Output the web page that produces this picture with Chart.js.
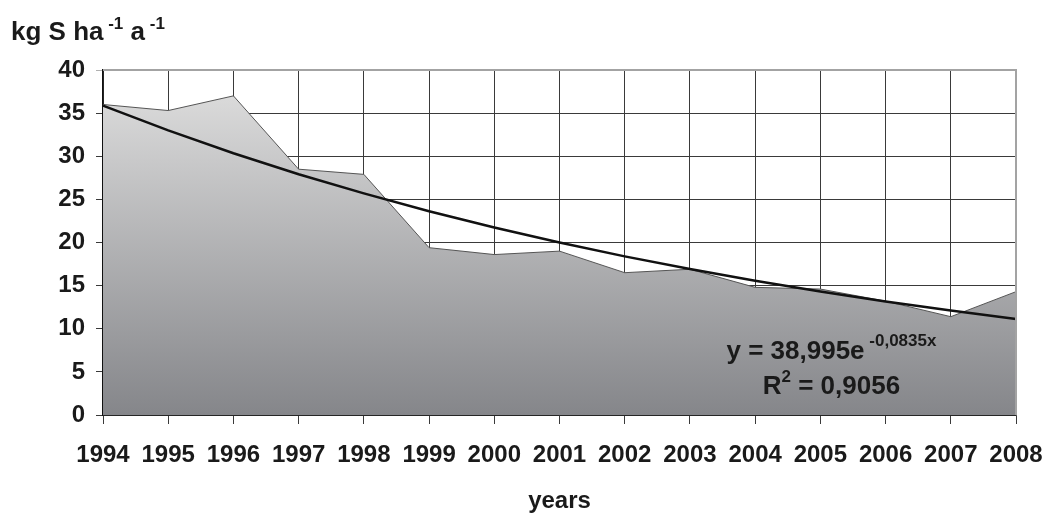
<!DOCTYPE html>
<html>
<head>
<meta charset="utf-8">
<script src="https://cdn.jsdelivr.net/npm/chart.js@4.4.1/dist/chart.umd.min.js"></script>
<style>
  html, body { margin: 0; padding: 0; background: #fff; }
  #wrap { width: 1046px; height: 513px; }
</style>
</head>
<body>
<div id="wrap"><canvas id="ccanvvas" width="1046" height="513"></canvas></div>
<script>
const years = ['1994', '1995', '1996', '1997', '1998', '1999', '2000', '2001', '2002', '2003', '2004', '2005', '2006', '2007', '2008']
const deposition = [36.0, 35.3, 37.0, 28.5, 27.9, 19.4, 18.6, 19.0, 16.5, 16.9, 14.8, 14.6, 13.2, 11.4, 14.3]
// exponential trend as plotted (y = 38,995e^-0,0835x)
const trend = [35.87, 33.00, 30.35, 27.92, 25.69, 23.63, 21.74, 19.99, 18.39, 16.92, 15.56, 14.32, 13.17, 12.11, 11.14]
const yTicks = [0, 5, 10, 15, 20, 25, 30, 35, 40]

const FONT = '"Liberation Sans", Arial, sans-serif'

// draws text runs with superscripts
function drawRuns(ctx, runs, x, y, align) {
  let total = 0
  runs.forEach(r => {
    ctx.font = 'bold ' + r.size + 'px ' + FONT
    r.w = ctx.measureText(r.t).width
    total += r.w
  })
  let cx = align === 'center' ? x - total / 2 : x
  runs.forEach(r => {
    ctx.font = 'bold ' + r.size + 'px ' + FONT
    ctx.fillText(r.t, cx, y + (r.dy || 0))
    cx += r.w
  })
}

const textPlugin = {
  id: 'texts',
  afterDraw(chart) {
    const ctx = chart.ctx
    const area = chart.chartArea
    const xs = chart.scales.x
    const ys = chart.scales.y
    ctx.save()
    // frame top and right edge
    ctx.strokeStyle = '#a3a3a3'
    ctx.lineWidth = 2
    ctx.beginPath()
    ctx.moveTo(area.left, area.top)
    ctx.lineTo(area.right, area.top)
    ctx.lineTo(area.right, area.bottom)
    ctx.stroke()
    ctx.fillStyle = '#1a1a1a'
    ctx.textBaseline = 'alphabetic'
    ctx.textAlign = 'left'
    // axis unit
    drawRuns(ctx, [
      { t: 'kg S ha', size: 26 },
      { t: ' -1', size: 17, dy: -11 },
      { t: ' a', size: 26 },
      { t: ' -1', size: 17, dy: -11 }
    ], 11, 40, 'left')
    // trend equation
    const ex = xs.getPixelForValue(11.17)
    drawRuns(ctx, [
      { t: 'y = 38,995e', size: 26 },
      { t: ' -0,0835x', size: 17, dy: -13 }
    ], ex, ys.getPixelForValue(6.5), 'center')
    drawRuns(ctx, [
      { t: 'R', size: 26 },
      { t: '2', size: 17, dy: -12 },
      { t: ' = 0,9056', size: 26 }
    ], ex, ys.getPixelForValue(2.45), 'center')
    ctx.restore()
  }
}

const ccanvvas = document.querySelector('#ccanvvas')
new Chart(ccanvvas, {
  type: 'line',
  data: {
    labels: years,
    datasets: [
      {
        label: 'trend',
        data: trend,
        borderColor: '#111',
        borderWidth: 2.5,
        pointRadius: 0,
        fill: false,
        tension: 0,
        order: 0
      },
      {
        label: 'deposition',
        data: deposition,
        borderColor: '#555',
        borderWidth: 1,
        pointRadius: 0,
        tension: 0,
        fill: 'origin',
        order: 1,
        backgroundColor: (c) => {
          const chart = c.chart
          if (!chart.chartArea) return '#bbb'
          const ys = chart.scales.y
          const g = chart.ctx.createLinearGradient(0, ys.getPixelForValue(37), 0, ys.getPixelForValue(0))
          g.addColorStop(0, '#dadada')
          g.addColorStop(1, '#85868a')
          return g
        }
      }
    ]
  },
  options: {
    responsive: false,
    animation: false,
    layout: { padding: { left: 0, right: 30, top: 70, bottom: 0 } },
    plugins: { legend: { display: false }, tooltip: { enabled: false } },
    scales: {
      x: {
        offset: false,
        grid: {
          color: '#3a3a3a',
          lineWidth: 1,
          tickLength: 9
        },
        border: { color: '#111', width: 1.5 },
        ticks: {
          color: '#1a1a1a',
          font: { family: FONT, size: 24, weight: 'bold' },
          padding: 17,
          maxRotation: 0,
          autoSkip: false
        },
        title: {
          display: true,
          text: 'years',
          color: '#1a1a1a',
          font: { family: FONT, size: 24, weight: 'bold' },
          padding: { top: 0, bottom: -3 }
        },
        afterFit: (s) => {
          s.height = 98
          s.paddingLeft = 0
          s.paddingRight = 0
        }
      },
      y: {
        min: 0,
        max: 40,
        afterBuildTicks: (s) => { s.ticks = yTicks.map(v => ({ value: v })) },
        grid: {
          color: (c) => c.tick && c.tick.value === 40 ? '#b0b0b0' : '#3a3a3a',
          lineWidth: 1,
          tickLength: 7
        },
        border: { color: '#111', width: 1.5 },
        ticks: {
          color: '#1a1a1a',
          font: { family: FONT, size: 24, weight: 'bold' },
          padding: 11
        },
        afterFit: (s) => { s.width = 103 }
      }
    }
  },
  plugins: [textPlugin]
})
</script>
</body>
</html>
